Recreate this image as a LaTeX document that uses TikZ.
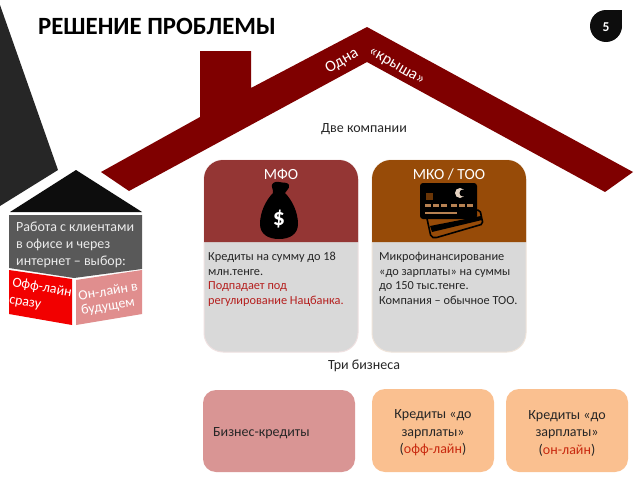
\documentclass[tikz,border=0pt]{standalone}
\usepackage{fontspec}
\setmainfont{Carlito}
\definecolor{roofred}{HTML}{7F0000}
\definecolor{darktri}{HTML}{262626}
\definecolor{nearblack}{HTML}{0D0D0D}
\definecolor{greybox}{HTML}{595959}
\definecolor{pinkbox}{HTML}{E08E8E}
\definecolor{mfotop}{HTML}{943634}
\definecolor{mkotop}{HTML}{974B08}
\definecolor{cardgrey}{HTML}{D9D9D9}
\definecolor{bizpink}{HTML}{D99594}
\definecolor{peach}{HTML}{FAC090}
\definecolor{redtext}{HTML}{B5201F}
\definecolor{orangered}{HTML}{C8280E}
\tikzset{
  body/.style={anchor=base west,inner sep=0pt,font=\fontsize{12.3}{15}\selectfont,text=black!85},
  label/.style={inner sep=0pt,font=\fontsize{14}{15}\selectfont,text=black!85},
  head/.style={inner sep=0pt,font=\fontsize{15.5}{17}\selectfont,text=white},
  rooft/.style={inner sep=0pt,font=\fontsize{16}{18}\selectfont,text=white},
  tile/.style={inner sep=0pt,font=\fontsize{14}{17.5}\selectfont,text=black!85,align=center},
  greyt/.style={body,text=white!92!black,font=\fontsize{14}{16}\selectfont},
  tilt/.style={inner sep=0pt,font=\fontsize{14}{15}\selectfont,text=white},
  cardbody/.style={rounded corners=19pt,fill=cardgrey,draw=#1,line width=1pt},
  cardtop/.style={fill=#1},
}
\begin{document}
\begin{tikzpicture}[x=1pt,y=-1pt]
\useasboundingbox (0,0) rectangle (638,479);
\fill[white] (0,0) rectangle (638,479);
% left dark triangle
\fill[darktri] (0,5) -- (58,170) -- (0,206) -- cycle;
% roof
\fill[roofred] (101,172) -- (200,117) -- (200,51) -- (251,51) -- (251,88) -- (367,27) -- (633,172) -- (605,192) -- (367,62) -- (129,191) -- cycle;
\node[rooft,rotate=30] (odna) at (342,61) {Одна};
\node[rooft,rotate=-30] (krysha) at (396,67) {«крыша»};
% title and badge
\node[anchor=west,inner sep=0pt,font=\bfseries\fontsize{24.8}{28}\selectfont,text=black] (title) at (38,26) {РЕШЕНИЕ ПРОБЛЕМЫ};
\fill[nearblack] (606,26) circle[radius=16];
\fill[nearblack] (606,10) rectangle (622,26);
\node[inner sep=0pt,font=\bfseries\fontsize{13.5}{15}\selectfont,text=white] (num) at (606,27) {5};
% small house
\fill[nearblack] (76,170) -- (142,212) -- (10,212) -- cycle;
\fill[greybox] (9,215) -- (142,215) -- (142,269) -- (74,278) -- (9,268) -- cycle;
\node[greyt] (g1) at (16,231) {Работа с клиентами};
\node[greyt] (g2) at (16,248) {в офисе и через};
\node[greyt] (g3) at (16,265) {интернет – выбор:};
\fill[red!95!black] (9,270) -- (72,279) -- (72,325) -- (9,314) -- cycle;
\fill[pinkbox] (76,280) -- (142,270) -- (142,314) -- (76,325) -- cycle;
\node[tilt,rotate=-10] (off1) at (42,288) {Офф-лайн};
\node[tilt,rotate=-10] (off2) at (25,304) {сразу};
\node[tilt,rotate=9] (on1) at (108,291) {Он-лайн в};
\node[tilt,rotate=9] (on2) at (108,307) {будущем};
% labels
\node[label] (dve) at (364,129) {Две компании};
\node[label] (tri) at (364,366) {Три бизнеса};
% MFO card
\draw[cardbody=mfotop!15!white] (204,160) rectangle (358,352);
\fill[cardtop=mfotop] (204,242) {[rounded corners=19pt] -- (204,160) -- (358,160)} -- (358,242) -- cycle;
\node[head] (mfo) at (281,174) {МФО};
% money bag
\fill[black] (279,182) .. controls (274,181) and (271,184) .. (272,187) .. controls (272,190) and (274,191) .. (273,193)
  .. controls (266,200) and (260,212) .. (260,224) .. controls (260,234) and (268,239) .. (279,239)
  .. controls (290,239) and (298,234) .. (298,224) .. controls (298,212) and (292,200) .. (285,193)
  .. controls (286,190) and (290,189) .. (289,185) .. controls (288,182) and (283,183) .. (279,182) -- cycle;
\node[inner sep=0pt,font=\bfseries\fontsize{24}{25}\selectfont,text=white] (dollar) at (279,219) {\$};
% MKO card
\draw[cardbody=mkotop!15!white] (372,160) rectangle (526,352);
\fill[cardtop=mkotop] (372,242) {[rounded corners=19pt] -- (372,160) -- (526,160)} -- (526,242) -- cycle;
\node[head] (mko) at (449,174) {МКО / ТОО};
% bank cards
\draw[black,line width=1.6pt,rounded corners=2pt,fill=mkotop] (426,214) -- (480,210) -- (483,224) -- (435,238) -- (431,237) -- cycle;
\fill[black] (430,226) -- (481,216) -- (482,220) -- (432,232) -- cycle;
\fill[black,rounded corners=3pt] (420,183) rectangle (477,219);
\fill[mkotop!70!black] (426,193) rectangle (433,200);
\fill[white!75!mkotop] (460,193) circle[radius=5];
\fill[black] (463,193) circle[radius=3.5];
\foreach \cx in {425,433,441,451,459,467} {\fill[mkotop!70!white] (\cx,204) rectangle (\cx+5.5,206.5);}
\fill[mkotop!70!white] (425,212) rectangle (457,214);
% card texts
\node[body] (m1) at (208,260) {Кредиты на сумму до 18};
\node[body] (m2) at (208,275) {млн.тенге.};
\node[body,text=redtext] (m3) at (208,289) {Подпадает под};
\node[body,text=redtext] (m4) at (208,304) {регулирование Нацбанка.};
\node[body] (k1) at (379,260) {Микрофинансирование};
\node[body] (k2) at (379,275) {«до зарплаты» на суммы};
\node[body] (k3) at (379,289) {до 150 тыс.тенге.};
\node[body] (k4) at (379,304) {Компания – обычное ТОО.};
% bottom tiles
\fill[bizpink,rounded corners=13pt] (203,390) rectangle (355,472);
\node[body,font=\fontsize{14}{16}\selectfont] (biz) at (213,436) {Бизнес-кредиты};
\fill[peach,rounded corners=13pt] (372,389) rectangle (494,472);
\node[tile] (off) at (433,433) {Кредиты «до\\зарплаты»\\(\textcolor{orangered}{офф-лайн})};
\fill[peach,rounded corners=13pt] (506,389) rectangle (628,472);
\node[tile] (on) at (567,433) {Кредиты «до\\зарплаты»\\(\textcolor{orangered}{он-лайн})};
\end{tikzpicture}
\end{document}
